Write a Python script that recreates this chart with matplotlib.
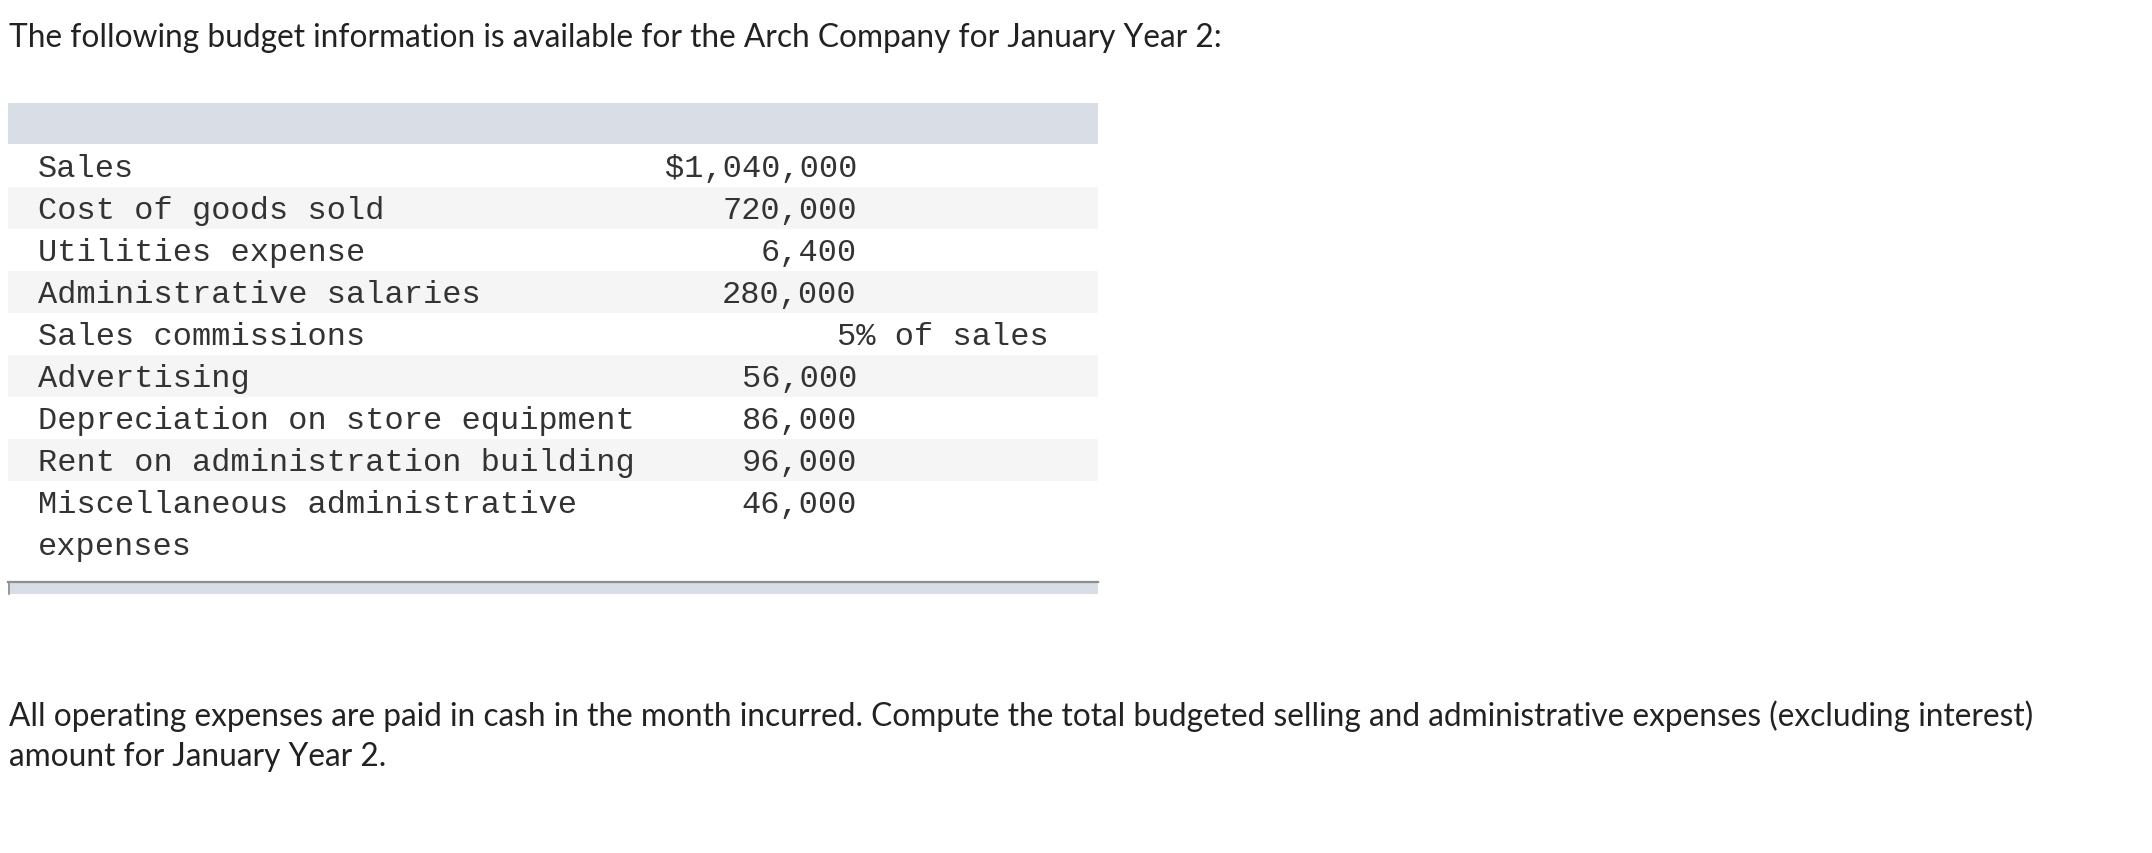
import matplotlib.pyplot as plt
from matplotlib.patches import Rectangle

# table content
labels = ["Sales", "Cost of goods sold", "Utilities expense", "Administrative salaries",
          "Sales commissions", "Advertising", "Depreciation on store equipment",
          "Rent on administration building", "Miscellaneous administrative\nexpenses"]
amounts = ["$1,040,000", "720,000", "6,400", "280,000", "", "56,000", "86,000", "96,000", "46,000"]
notes = ["", "", "", "", "5% of sales", "", "", "", ""]

title = "The following budget information is available for the Arch Company for January Year 2:"
footer = ["All operating expenses are paid in cash in the month incurred. Compute the total budgeted "
          "selling and administrative expenses (excluding interest)",
          "amount for January Year 2."]

W, H = 2152, 854
fig = plt.figure(figsize=(W / 100, H / 100), dpi=100)
ax = fig.add_axes([0, 0, 1, 1])
ax.set_xlim(0, W)
ax.set_ylim(H, 0)
ax.axis("off")

prose = dict(family=["Lato", "DejaVu Sans"], fontsize=22.8, color="#222222", va="center")
mono = dict(family=["Liberation Mono", "DejaVu Sans Mono"], fontsize=23, color="#333333", va="center")

ax.text(9, 38, title, **prose)

# table frame
x0, x1 = 8, 1098
ax.add_patch(Rectangle((x0, 104), x1 - x0, 41, color="#d9dde6", lw=0))
row_h = 42
top = 146
for i, lab in enumerate(labels):
    y = top + i * row_h
    if i % 2 == 1:
        ax.add_patch(Rectangle((x0, y), x1 - x0, row_h, color="#f5f5f5", lw=0))
    # wrapped labels: one line each, 42 px apart
    for j, part in enumerate(lab.split("\n")):
        ax.text(38, y + 23 + j * 42, part, **mono)
    if amounts[i]:
        ax.text(857, y + 23, amounts[i], ha="right", **mono)
    if notes[i]:
        ax.text(1049, y + 23, notes[i], ha="right", **mono)

# bottom band
ax.add_patch(Rectangle((x0, 583), x1 - x0, 12, color="#d9dde6", lw=0))
ax.plot([x0, x1], [583, 583], color="#8a8d93", lw=1.6)
ax.plot([x0 + 0.5, x0 + 0.5], [583, 595], color="#8a8d93", lw=1.2)

ax.text(9, 716, footer[0], **prose)
ax.text(9, 757, footer[1], **prose)

fig.savefig("out.png", dpi=100)
